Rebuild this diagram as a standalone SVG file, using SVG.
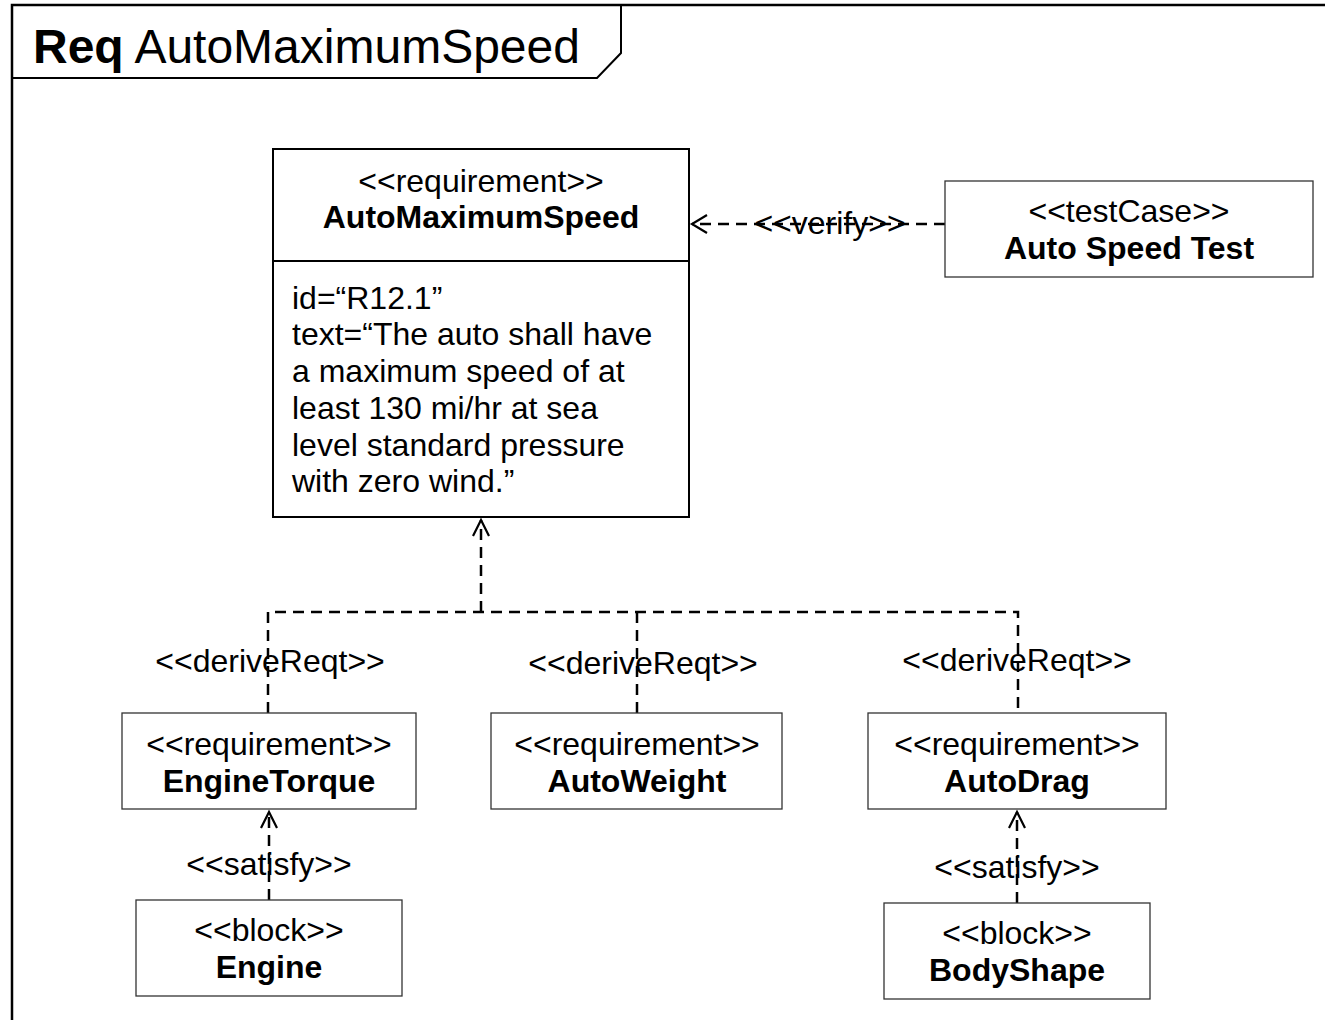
<svg xmlns="http://www.w3.org/2000/svg" width="1325" height="1020" viewBox="0 0 1325 1020">
<style>
text{font-family:"Liberation Sans",Arial,sans-serif;font-size:32px;fill:#000}
.c{text-anchor:middle}
.b{font-weight:bold}
.box{fill:#fff;stroke:#333;stroke-width:1.3}
.main{fill:#fff;stroke:#000;stroke-width:2}
.dash{fill:none;stroke:#000;stroke-width:2.5;stroke-dasharray:11 7}
.head{fill:none;stroke:#000;stroke-width:2.2}
</style>
<rect width="1325" height="1020" fill="#fff"/>
<g id="frame">
<path d="M12,1020 V5 H1330" fill="none" stroke="#000" stroke-width="2.5"/>
<path d="M12,78 H597 L621,53 V5" fill="none" stroke="#000" stroke-width="2"/>
<text x="33" y="63" style="font-size:48px"><tspan class="b">Req</tspan> AutoMaximumSpeed</text>
</g>
<g id="connectors">
<path class="dash" d="M945,224 H692"/>
<path class="head" d="M707,215 L692,224 L707,233"/>
<path class="dash" d="M481,612 V520"/>
<path class="head" d="M473,536 L481,520 L489,536"/>
<path class="dash" d="M268,713 V612 H1018 V713"/>
<path class="dash" d="M637,612 V713"/>
<path class="dash" d="M269,900 V812"/>
<path class="head" d="M261,828 L269,812 L277,828"/>
<path class="dash" d="M1017,903 V812"/>
<path class="head" d="M1009,828 L1017,812 L1025,828"/>
<text class="c" x="830" y="234">&lt;&lt;verify&gt;&gt;</text>
<text class="c" x="270" y="672">&lt;&lt;deriveReqt&gt;&gt;</text>
<text class="c" x="643" y="674">&lt;&lt;deriveReqt&gt;&gt;</text>
<text class="c" x="1017" y="671">&lt;&lt;deriveReqt&gt;&gt;</text>
<text class="c" x="269" y="875">&lt;&lt;satisfy&gt;&gt;</text>
<text class="c" x="1017" y="878">&lt;&lt;satisfy&gt;&gt;</text>
</g>
<g id="AutoMaximumSpeed">
<rect class="main" x="273" y="149" width="416" height="368"/>
<line x1="273" y1="261" x2="689" y2="261" stroke="#000" stroke-width="2"/>
<text class="c" x="481" y="192">&lt;&lt;requirement&gt;&gt;</text>
<text class="c b" x="481" y="228">AutoMaximumSpeed</text>
<text x="292" y="309">id=“R12.1”</text>
<text x="292" y="345">text=“The auto shall have</text>
<text x="292" y="382">a maximum speed of at</text>
<text x="292" y="419">least 130 mi/hr at sea</text>
<text x="292" y="456">level standard pressure</text>
<text x="292" y="492">with zero wind.”</text>
</g>
<g id="AutoSpeedTest">
<rect class="box" x="945" y="181" width="368" height="96"/>
<text class="c" x="1129" y="222">&lt;&lt;testCase&gt;&gt;</text>
<text class="c b" x="1129" y="259">Auto Speed Test</text>
</g>
<g id="EngineTorque">
<rect class="box" x="122" y="713" width="294" height="96"/>
<text class="c" x="269" y="755">&lt;&lt;requirement&gt;&gt;</text>
<text class="c b" x="269" y="792">EngineTorque</text>
</g>
<g id="AutoWeight">
<rect class="box" x="491" y="713" width="291" height="96"/>
<text class="c" x="637" y="755">&lt;&lt;requirement&gt;&gt;</text>
<text class="c b" x="637" y="792">AutoWeight</text>
</g>
<g id="AutoDrag">
<rect class="box" x="868" y="713" width="298" height="96"/>
<text class="c" x="1017" y="755">&lt;&lt;requirement&gt;&gt;</text>
<text class="c b" x="1017" y="792">AutoDrag</text>
</g>
<g id="Engine">
<rect class="box" x="136" y="900" width="266" height="96"/>
<text class="c" x="269" y="941">&lt;&lt;block&gt;&gt;</text>
<text class="c b" x="269" y="978">Engine</text>
</g>
<g id="BodyShape">
<rect class="box" x="884" y="903" width="266" height="96"/>
<text class="c" x="1017" y="944">&lt;&lt;block&gt;&gt;</text>
<text class="c b" x="1017" y="981">BodyShape</text>
</g>
</svg>
